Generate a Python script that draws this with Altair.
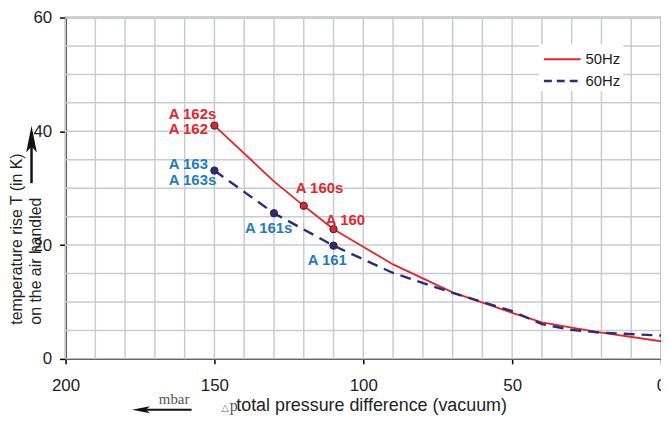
import altair as alt
import pandas as pd

# ---- data ----
x50 = [150, 130, 120, 110, 90, 70, 50, 40, 30, 20, 0]
y50 = [41.0, 31.2, 26.9, 22.8, 16.6, 11.7, 8.1, 6.4, 5.5, 4.6, 3.1]
x60 = [150, 130, 110, 90, 70, 50, 40, 30, 20, 0]
y60 = [33.1, 25.6, 19.9, 15.1, 11.6, 8.4, 6.1, 5.1, 4.6, 4.1]

mk50_x = [150, 120, 110]
mk50_y = [41.0, 26.9, 22.8]
mk60_x = [150, 130, 110]
mk60_y = [33.1, 25.6, 19.9]

lab_text = ["A 162s", "A 162", "A 163", "A 163s", "A 160s", "A 160", "A 161s", "A 161"]
lab_x = [150, 150, 150, 150, 120, 110, 130, 110]
lab_y = [41.0, 41.0, 33.1, 33.1, 26.9, 22.8, 25.6, 19.9]
lab_series = ["50Hz", "50Hz", "60Hz", "60Hz", "50Hz", "50Hz", "60Hz", "60Hz"]

x_ticks = [0, 50, 100, 150, 200]
y_ticks = [0, 20, 40, 60]
x_grid = list(range(0, 201, 10))
y_grid = list(range(0, 61, 5))

series_names = ["50Hz", "60Hz"]

# ---- styles ----
RED = "#e3262b"
RED_LAB = "#e0282e"
NAVY = "#2b2d7c"
BLUE_LAB = "#1f7cc1"
GRID = "#c8cbd2"
FONT = "Liberation Sans"
lab_offsets = [(-46, -6.6), (-46, 8.4), (-46, -1.9), (-46, 14.8),
               (-8, -12.5), (-7.7, -4.3), (-29.3, 20), (-26, 19)]
ARROW = "M0,-1L0.4,1L0,0.55L-0.4,1Z"

xs = alt.Scale(domain=[0, 200], reverse=True, nice=False, zero=False)
ys = alt.Scale(domain=[0, 60], nice=False, zero=False)

x_axis = alt.Axis(
    values=x_ticks, grid=False, title=None, tickSize=5, tickWidth=1.5, tickColor="black",
    domainColor="black", domainWidth=1.5, labelPadding=14, labelFontSize=17,
    labelFont=FONT, labelColor="#222", labelFlush=False)
y_axis = alt.Axis(
    values=y_ticks, grid=False, tickSize=6, tickWidth=1.5, tickColor="black",
    domainColor="black", domainWidth=1.5, labelPadding=8, labelFontSize=17,
    labelFont=FONT, labelColor="#222", labelBaseline="middle", labelFlush=False,
    title=["temperature rise T (in K)", "on the air handled"],
    titleAngle=270, titleAlign="left", titleBaseline="top",
    titleX=-57, titleY=309, titleFontSize=16, titleFontWeight="normal",
    titleFont=FONT, titleColor="#222", titleLineHeight=19)


def X(f):
    return alt.X(f, scale=xs, axis=x_axis)


def Y(f):
    return alt.Y(f, scale=ys, axis=y_axis)


one = pd.DataFrame({"a": [0]})

grid_xl = alt.Chart(pd.DataFrame({"v": x_grid})).mark_rule(
    color=GRID, strokeWidth=1.5).encode(x=X("v:Q"))
grid_yl = alt.Chart(pd.DataFrame({"v": y_grid})).mark_rule(
    color=GRID, strokeWidth=1.5).encode(y=Y("v:Q"))

# manual legend box
leg_box = alt.Chart(one).mark_rect(fill="white").encode(
    x=alt.value(477), x2=alt.value(562), y=alt.value(27), y2=alt.value(74))
leg_r1 = alt.Chart(one).mark_rule(color=RED, strokeWidth=2).encode(
    x=alt.value(482), x2=alt.value(519), y=alt.value(42))
leg_r2 = alt.Chart(one).mark_rule(color=NAVY, strokeWidth=2.4, strokeDash=[8, 5]).encode(
    x=alt.value(482), x2=alt.value(519), y=alt.value(64))
leg_t1 = alt.Chart(one).mark_text(text=series_names[0], align="left", baseline="middle",
                                  font=FONT, fontSize=15, color="#222").encode(
    x=alt.value(524), y=alt.value(42))
leg_t2 = alt.Chart(one).mark_text(text=series_names[1], align="left", baseline="middle",
                                  font=FONT, fontSize=15, color="#222").encode(
    x=alt.value(524), y=alt.value(64))

df50 = pd.DataFrame({"x": x50, "y": y50})
df60 = pd.DataFrame({"x": x60, "y": y60})

line50 = alt.Chart(df50).mark_line(color=RED, strokeWidth=1.8).encode(x=X("x:Q"), y=Y("y:Q"))
line60 = alt.Chart(df60).mark_line(color=NAVY, strokeWidth=2.4, strokeDash=[11, 7]).encode(
    x=X("x:Q"), y=Y("y:Q"))

pts50 = alt.Chart(pd.DataFrame({"x": mk50_x, "y": mk50_y})).mark_circle(
    size=55, color=RED, opacity=1, stroke="#2a2a2a", strokeWidth=1).encode(x=X("x:Q"), y=Y("y:Q"))
pts60 = alt.Chart(pd.DataFrame({"x": mk60_x, "y": mk60_y})).mark_circle(
    size=55, color=NAVY, opacity=1, stroke="#2a2a2a", strokeWidth=1).encode(x=X("x:Q"), y=Y("y:Q"))

labels = []
for t, lx, ly, s, (dx, dy) in zip(lab_text, lab_x, lab_y, lab_series, lab_offsets):
    labels.append(
        alt.Chart(pd.DataFrame({"x": [lx], "y": [ly], "t": [t]})).mark_text(
            align="left", baseline="alphabetic", dx=dx, dy=dy, font=FONT, fontSize=15,
            fontWeight="bold", color=RED_LAB if s == "50Hz" else BLUE_LAB).encode(
            x=X("x:Q"), y=Y("y:Q"), text="t:N"))

# y-axis arrow
y_shaft = alt.Chart(one).mark_rule(color="#111", strokeWidth=2.5).encode(
    x=alt.value(-34.3), y=alt.value(129), y2=alt.value(167))
y_head = alt.Chart(one).mark_point(shape=ARROW, filled=True, color="#111", opacity=1,
                                   size=729).encode(x=alt.value(-34.3), y=alt.value(122.5))

# x-axis title and arrow
TY = 397
x_shaft = alt.Chart(one).mark_rule(color="#111", strokeWidth=2).encode(
    x=alt.value(80), x2=alt.value(127), y=alt.value(TY - 1.7))
x_head = alt.Chart(one).mark_point(shape=ARROW, filled=True, color="#111", opacity=1,
                                   size=324, angle=270).encode(x=alt.value(76), y=alt.value(TY - 1.7))
mbar = alt.Chart(one).mark_text(text="mbar", align="left", baseline="alphabetic",
                                font="Liberation Serif", fontSize=15, color="#555").encode(
    x=alt.value(94), y=alt.value(TY - 7.5))
tri = alt.Chart(one).mark_text(text="△", align="left", baseline="alphabetic",
                               font="DejaVu Sans", fontSize=10, color="#666").encode(
    x=alt.value(157), y=alt.value(TY))
pch = alt.Chart(one).mark_text(text="p", align="left", baseline="alphabetic",
                               font="Liberation Serif", fontSize=16, color="#555").encode(
    x=alt.value(165.5), y=alt.value(TY))
xtitle = alt.Chart(one).mark_text(text="total pressure difference (vacuum)", align="left",
                                  baseline="alphabetic", font=FONT, fontSize=18,
                                  color="#222").encode(x=alt.value(172), y=alt.value(TY))

chart = alt.layer(
    grid_xl, grid_yl, leg_box, leg_r1, leg_r2, leg_t1, leg_t2,
    line50, line60, pts50, pts60, *labels,
    y_shaft, y_head, x_shaft, x_head, mbar, tri, pch, xtitle
).properties(
    width=600, height=344,
    autosize=alt.AutoSizeParams(type="none"),
    padding={"left": 58, "top": 8, "right": 0, "bottom": 57},
    background="white",
).configure_view(stroke="#a4a8b0", strokeWidth=2)

chart.save("out.html", embed_options={"renderer": "svg", "actions": False})
